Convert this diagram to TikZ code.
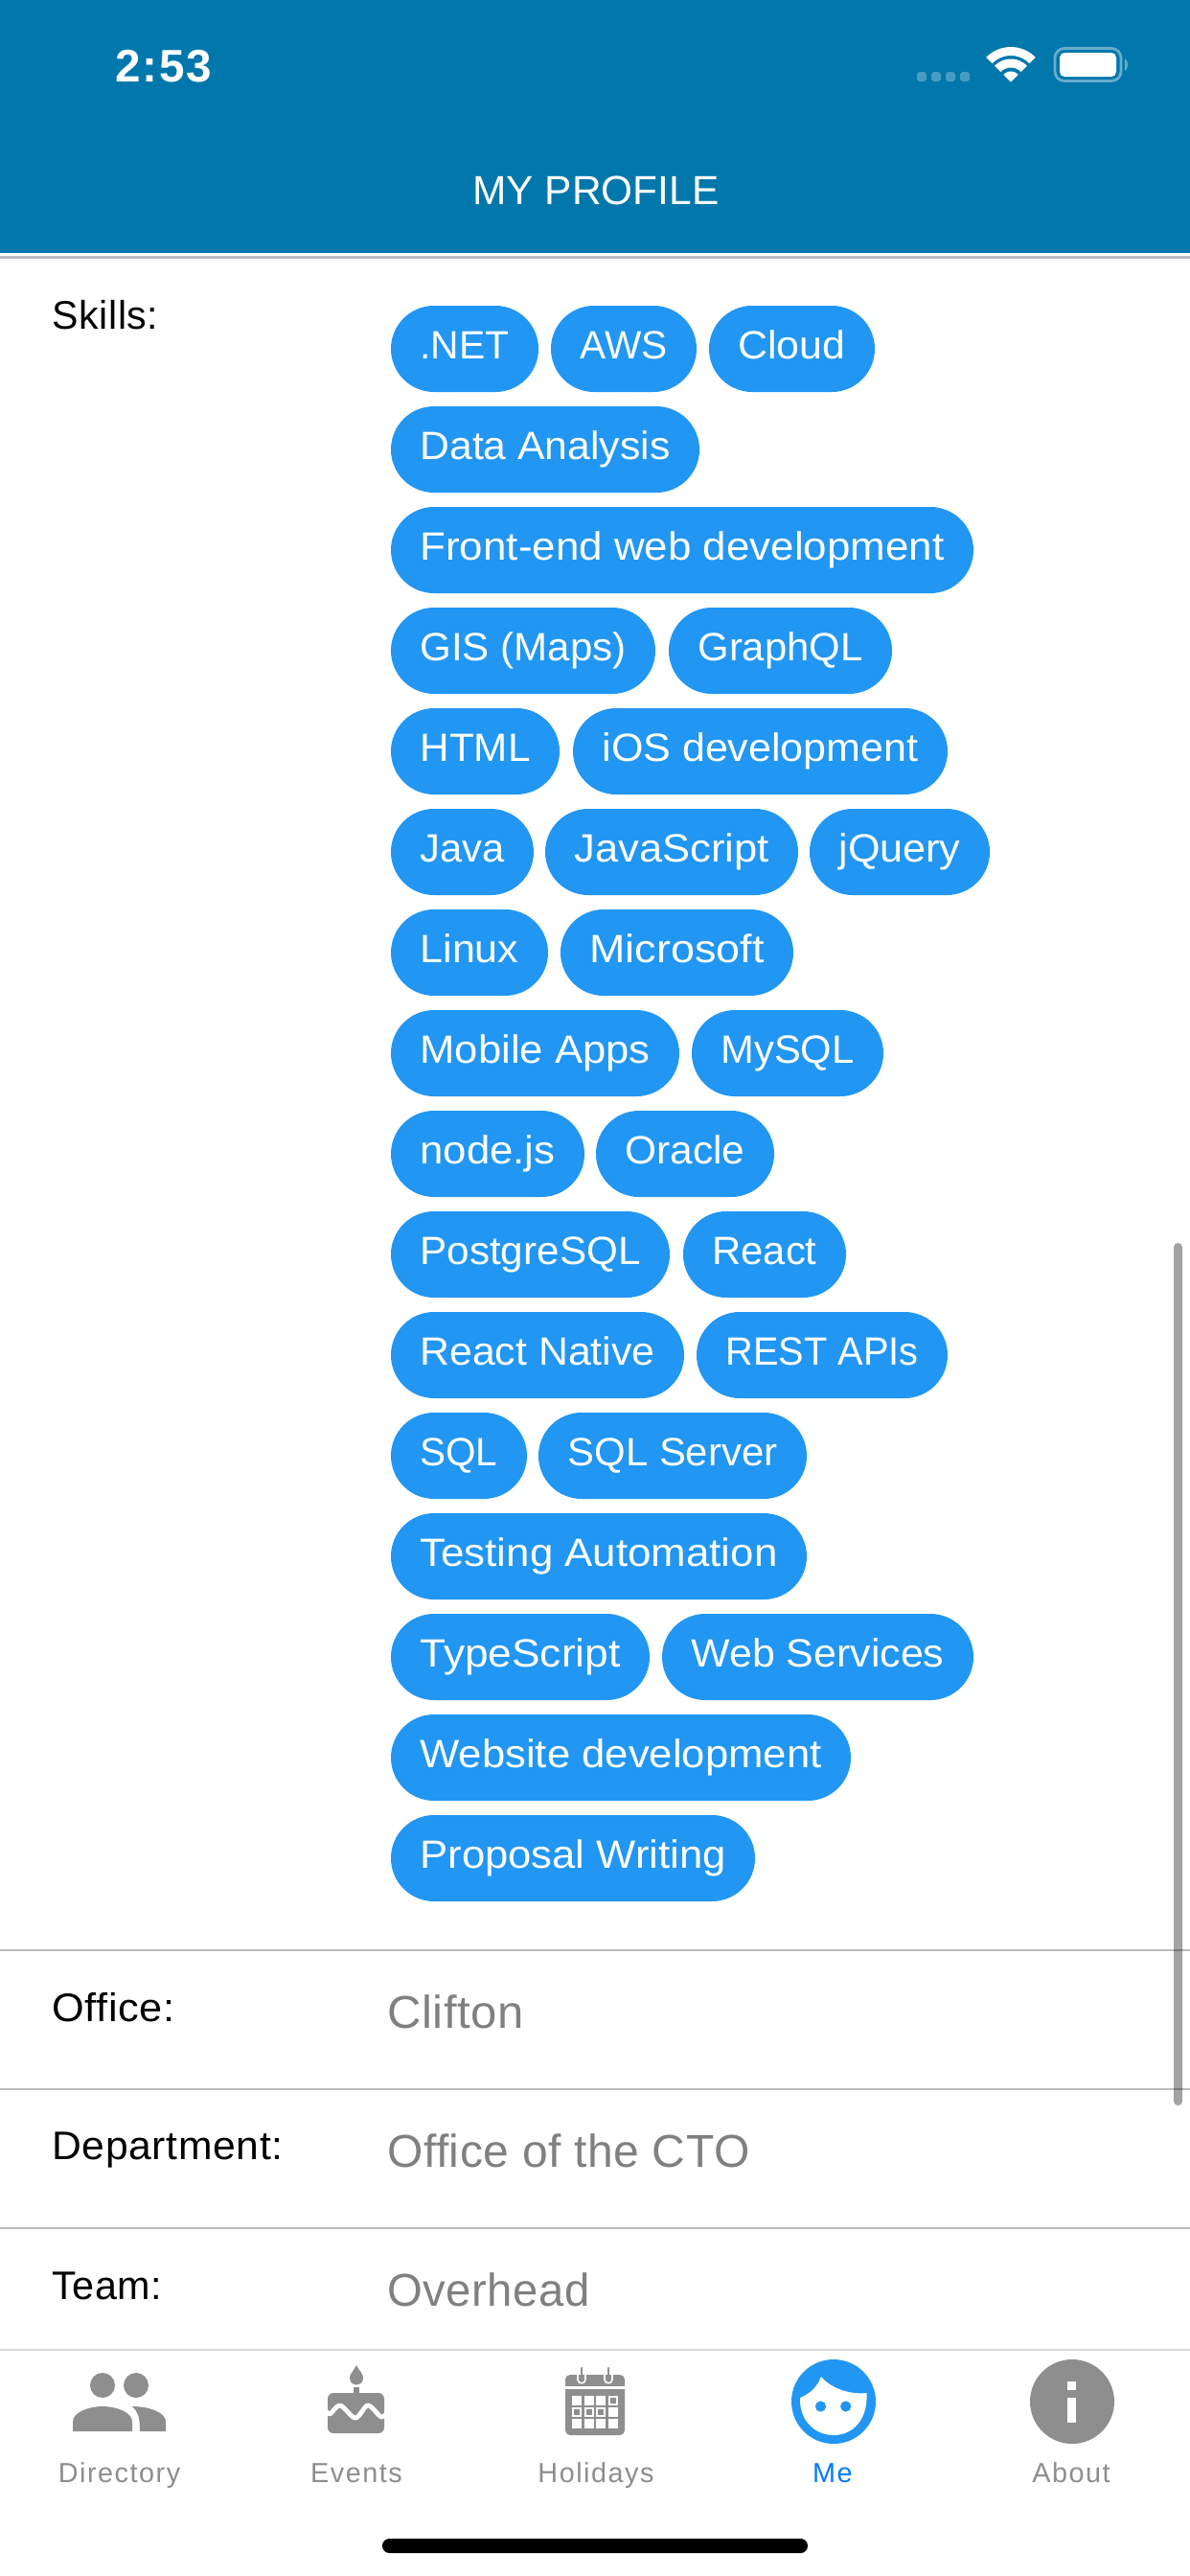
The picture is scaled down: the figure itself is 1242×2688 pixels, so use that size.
\documentclass[tikz,border=0pt]{standalone}
\usepackage{graphicx}
\usepackage{fontspec}
\setmainfont{Liberation Sans}
\newfontfamily\chipfont{Liberation Sans}
\newfontfamily\tabfont[LetterSpace=5.3]{Liberation Sans}
\newfontfamily\valfont[LetterSpace=1.0]{Liberation Sans}
\newfontfamily\labelfont[LetterSpace=1.5]{Liberation Sans}
\newfontfamily\clockfont[LetterSpace=4.0]{Liberation Sans}
\definecolor{headerblue}{RGB}{2,119,171}
\definecolor{chipblue}{RGB}{33,150,243}
\definecolor{sepgray}{RGB}{188,187,193}
\definecolor{tabline}{RGB}{217,217,217}
\definecolor{icongray}{RGB}{142,142,142}
\definecolor{valgray}{RGB}{128,128,128}
\definecolor{mepblue}{RGB}{0,122,255}
\tikzset{
  chip/.style={fill=chipblue,text=white,rounded corners=22.5pt,inner sep=0pt,minimum height=45pt,
    text height=15pt,text depth=5pt,font=\chipfont\fontsize{20.6}{24}\selectfont},
  fieldlabel/.style={anchor=base west,inner sep=0pt,text=black,font=\labelfont\fontsize{20.8}{24}\selectfont},
  fieldvalue/.style={anchor=base west,inner sep=0pt,text=valgray,font=\valfont\fontsize{24}{28}\selectfont},
  tablabel/.style={anchor=base,inner sep=0pt,text=icongray,font=\tabfont\fontsize{14.4}{18}\selectfont},
  sepline/.style={draw=sepgray,line width=1pt},
  iconfill/.style={fill=icongray,draw=none},
}
\newcommand{\chipat}[5]{\node[chip,minimum width={(#3-#2)*0.5pt}] (#1) at ({(#2+#3)/2},{#4+45}) {\resizebox{\dimexpr 0.5pt*\numexpr#3-#2-61\relax\relax}{\height}{#5}};}
\begin{document}
\begin{tikzpicture}[x=0.5pt,y=-0.5pt]
\useasboundingbox (0,0) rectangle (1242,2688);
\fill[white] (0,0) rectangle (1242,2688);
% header
\fill[headerblue] (0,0) rectangle (1242,264);
\fill[sepgray] (0,267) rectangle (1242,270);
\node[anchor=base west,inner sep=0pt,text=white,font=\clockfont\fontsize{23.8}{28}\bfseries\selectfont] (clock) at (120,85) {2:53};
\node[anchor=base,inner sep=0pt,text=white,font=\fontsize{21.2}{26}\selectfont] (title) at (622,213) {MY PROFILE};
% status icons
\foreach \d in {957,972,987,1002}
  \fill[white,opacity=.28,rounded corners=1.5pt] (\d,75) rectangle ++(10,10);
\fill[white,draw=white,line width=.5pt,line join=round] (1055,85) -- plot[domain=45:135,samples=9] ({1055+10*cos(\x)},{85-10*sin(\x)}) -- cycle;
\fill[white,draw=white,line width=.5pt,line join=round] plot[domain=45:135,samples=13] ({1055+23*cos(\x)},{85-23*sin(\x)}) -- plot[domain=135:45,samples=13] ({1055+15*cos(\x)},{85-15*sin(\x)}) -- cycle;
\fill[white,draw=white,line width=.5pt,line join=round] plot[domain=45:135,samples=17] ({1055+35.5*cos(\x)},{85-35.5*sin(\x)}) -- plot[domain=135:45,samples=17] ({1055+27.5*cos(\x)},{85-27.5*sin(\x)}) -- cycle;
\draw[white,opacity=.4,line width=1.4pt,rounded corners=5pt] (1101,50.5) rectangle (1170,84.5);
\fill[white,rounded corners=2.5pt] (1106,55) rectangle (1165,80);
\fill[white,opacity=.4] (1174,61) .. controls (1178,63) and (1178,72) .. (1174,74) -- cycle;
% labels
\node[fieldlabel] (skills) at (54,343) {\resizebox{55.5pt}{\height}{Skills:}};
\node[fieldlabel] (office) at (54,2109) {\resizebox{64pt}{\height}{Office:}};
\node[fieldlabel] (dept) at (54,2253) {\resizebox{120.5pt}{\height}{Department:}};
\node[fieldlabel] (team) at (54,2399) {\resizebox{57.5pt}{\height}{Team:}};
\node[fieldvalue] (clifton) at (404,2116) {\resizebox{71pt}{\height}{Clifton}};
\node[fieldvalue] (cto) at (404,2261) {Office of the CTO};
\node[fieldvalue] (overhead) at (404,2406) {\resizebox{105.5pt}{\height}{Overhead}};
% chips
\chipat{c1}{408}{562}{319}{.NET}
\chipat{c2}{575}{727}{319}{AWS}
\chipat{c3}{740}{913}{319}{Cloud}
\chipat{c4}{408}{730}{424}{Data Analysis}
\chipat{c5}{408}{1016}{529}{Front-end web development}
\chipat{c6}{408}{684}{634}{GIS (Maps)}
\chipat{c7}{698}{931}{634}{GraphQL}
\chipat{c8}{408}{584}{739}{HTML}
\chipat{c9}{598}{989}{739}{iOS development}
\chipat{c10}{408}{557}{844}{Java}
\chipat{c11}{569}{833}{844}{JavaScript}
\chipat{c12}{845}{1033}{844}{jQuery}
\chipat{c13}{408}{572}{949}{Linux}
\chipat{c14}{585}{828}{949}{Microsoft}
\chipat{c15}{408}{709}{1054}{Mobile Apps}
\chipat{c16}{722}{922}{1054}{MySQL}
\chipat{c17}{408}{610}{1159}{node.js}
\chipat{c18}{622}{808}{1159}{Oracle}
\chipat{c19}{408}{699}{1264}{PostgreSQL}
\chipat{c20}{713}{883}{1264}{React}
\chipat{c21}{408}{714}{1369}{React Native}
\chipat{c22}{727}{989}{1369}{REST APIs}
\chipat{c23}{408}{550}{1474}{SQL}
\chipat{c24}{562}{842}{1474}{SQL Server}
\chipat{c25}{408}{842}{1579}{Testing Automation}
\chipat{c26}{408}{678}{1684}{TypeScript}
\chipat{c27}{691}{1016}{1684}{Web Services}
\chipat{c28}{408}{888}{1789}{Website development}
\chipat{c29}{408}{788}{1894}{Proposal Writing}
% separators
\draw[sepline] (0,2035) -- (1242,2035);
\draw[sepline] (0,2180) -- (1242,2180);
\draw[sepline] (0,2325) -- (1242,2325);
% scroll bar
\fill[black,opacity=.36,rounded corners=2.2pt] (1225,1297) rectangle (1234,2197);
% tab bar
\fill[white] (0,2451) rectangle (1242,2688);
\draw[tabline,line width=1pt] (0,2452) -- (1242,2452);
% directory icon
\fill[iconfill] (107,2489) ellipse [x radius=13,y radius=13];
\fill[iconfill] (142,2489) ellipse [x radius=13,y radius=13];
\fill[iconfill] (76,2537) -- (76,2527) .. controls (76,2517) and (93,2511) .. (107,2511) .. controls (121,2511) and (138,2517) .. (138,2527) -- (138,2537) -- cycle;
\fill[iconfill] (138,2511) .. controls (144,2517) and (146,2522) .. (146,2537) -- (173,2537) -- (173,2527) .. controls (173,2517) and (155,2511) .. (138,2511) -- cycle;
% cake icon
\fill[iconfill] (372,2468) .. controls (375,2474) and (379,2477) .. (379,2481) .. controls (379,2491) and (365,2491) .. (365,2481) .. controls (365,2477) and (369,2474) .. (372,2468) -- cycle;
\fill[iconfill] (368.5,2491) rectangle (375,2498);
\fill[iconfill,rounded corners=3pt] (342,2497) rectangle (401,2539);
\draw[white,line width=2.4pt,line join=round] plot[smooth,tension=.55] coordinates {(338,2512) (344,2519) (355,2510) (371,2523) (384,2510) (398,2522) (405,2516)};
% calendar icon
\fill[iconfill,rounded corners=2.5pt] (590,2478) rectangle (652,2541);
\fill[white] (590,2490) rectangle (652,2493);
\foreach \r in {607,635}{
  \draw[white,line width=.8pt] (\r-4,2478) -- (\r-4,2483) .. controls (\r-4,2488) and (\r+4,2488) .. (\r+4,2483) -- (\r+4,2478);
  \draw[icongray,line width=1.2pt,line cap=round] (\r,2471) -- (\r,2484);
}
\foreach \cx/\ci in {597/1,609.5/2,622/3,634.7/4}
  \foreach \cy/\cj in {2500/1,2512/2,2524/3}{
    \fill[white] (\cx,\cy) rectangle ++(10.2,10);
  }
\foreach \cx/\cy in {634.7/2500,597/2512,609.5/2512,622/2512}
  \fill[iconfill] (\cx+2.1,\cy+2) rectangle ++(6,6);
% me icon
\fill[chipblue] (870,2506) circle (22pt);
\fill[white] (835,2502) .. controls (847,2497) and (853,2490) .. (857,2480) .. controls (866,2491) and (885,2499) .. (904.5,2497) .. controls (906,2525) and (890,2541) .. (870,2541) .. controls (850,2541) and (834,2525) .. (835,2502) -- cycle;
\fill[chipblue] (856.5,2511) circle (2.8pt);
\fill[chipblue] (882.7,2511) circle (2.8pt);
% about icon
\fill[iconfill] (1119,2506) circle (22pt);
\fill[white] (1114,2484.5) rectangle (1123,2493.5);
\fill[white] (1114,2502) rectangle (1123,2528);
% tab labels
\node[tablabel] (tdir) at (124.5,2590) {Directory};
\node[tablabel] (tev) at (372,2590) {Events};
\node[tablabel] (thol) at (622,2590) {Holidays};
\node[tablabel,text=mepblue] (tme) at (869,2590) {Me};
\node[tablabel] (tab) at (1118,2590) {About};
% home indicator
\fill[black,rounded corners=3.7pt] (399,2649) rectangle (843,2664);
\end{tikzpicture}
\end{document}
